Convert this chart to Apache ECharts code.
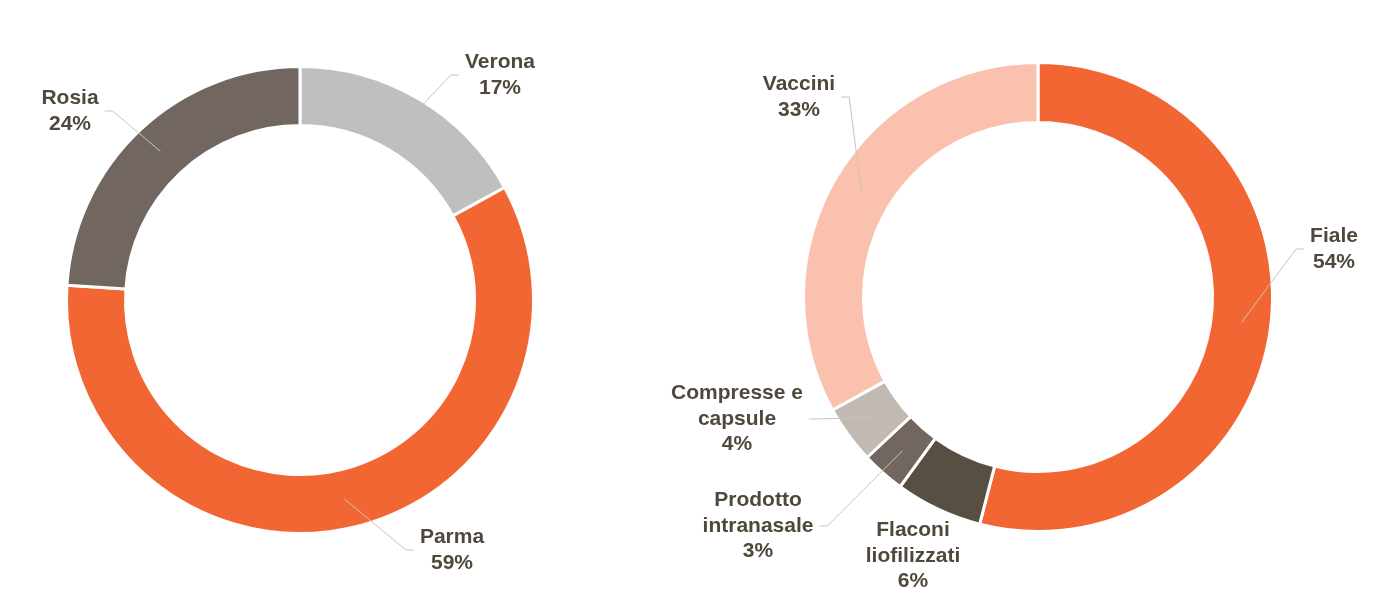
<!DOCTYPE html>
<html>
<head>
    <meta charset="utf-8">
    <title>Ciambelle</title>
    <style>
        html, body { margin: 0; padding: 0; background: #fff; }
        #demo { width: 1392px; height: 609px; }
    </style>
</head>
<body>
<div id="demo"></div>
<script src="https://cdn.jsdelivr.net/npm/echarts@6/dist/echarts.min.js"></script>
<script>
    // dati: grafico di sinistra (sedi)
    var sediNomi = ['Verona', 'Parma', 'Rosia'];
    var sediValori = [17, 59, 24];
    var sediColori = ['#BFBFBF', '#F26633', '#716760'];

    // dati: grafico di destra (prodotti)
    var prodottiNomi = ['Fiale', 'Flaconi\nliofilizzati', 'Prodotto\nintranasale', 'Compresse e\ncapsule', 'Vaccini'];
    var prodottiValori = [54, 6, 3, 4, 33];
    var prodottiColori = ['#F26633', '#575042', '#716760', '#C0BAB3', '#F9C1AE'];

    // dove stanno le etichette (centro del blocco di testo) e se hanno la linea
    var posEtichette = [
        [[500, 75], [452, 550], [70, 111]],
        [[1334, 249], [913, 556], [758, 526], [737, 419], [799, 97]]
    ];
    var senzaLinea = [[], [1]];

    var testo = '#4F483B';
    var font = "'Liberation Sans', Arial, sans-serif";

    var dom = document.getElementById('demo');
    var myChart = echarts.init(dom);

    function buildData(nomi, valori, colori, noLine) {
        var out = [];
        for (var i = 0; i < nomi.length; i++) {
            var item = { name: nomi[i], value: valori[i], itemStyle: { color: colori[i] } };
            if (noLine && noLine.indexOf(i) >= 0) {
                item.labelLine = { show: false };
            }
            out.push(item);
        }
        return out;
    }

    function formatta(p) {
        var righe = p.name.split('\n');
        righe.push(p.value + '%');
        return righe.map(function (r) { return '{t|' + r + '}'; }).join('\n');
    }

    // linea guida: parte da metà anello sull'angolo medio, arriva al bordo del testo
    function disponi(serie) {
        return function (params) {
            var pos = posEtichette[serie][params.dataIndex];
            var w = params.labelRect.width;
            var res = { x: pos[0], y: pos[1], align: 'center', verticalAlign: 'middle' };
            var lay = null;
            try {
                lay = myChart.getModel().getSeriesByIndex(params.seriesIndex).getData().getItemLayout(params.dataIndex);
            } catch (e) { lay = null; }
            if (lay) {
                var mid = (lay.startAngle + lay.endAngle) / 2;
                var rm = lay.r; // la serie sopra ha raggio = metà anello
                var sx = lay.cx + rm * Math.cos(mid);
                var sy = lay.cy + rm * Math.sin(mid);
                var ex, tx;
                if (sx < pos[0]) {
                    ex = pos[0] - w / 2 - 6;
                    tx = ex - 8;
                } else {
                    ex = pos[0] + w / 2 + 6;
                    tx = ex + 8;
                }
                res.labelLinePoints = [[sx, sy], [tx, pos[1]], [ex, pos[1]]];
            }
            return res;
        };
    }

    // anello colorato, senza etichette
    function anello(centro, raggi, dati) {
        return {
            type: 'pie',
            z: 2,
            center: centro,
            radius: raggi,
            startAngle: 90,
            clockwise: true,
            silent: true,
            itemStyle: { borderColor: '#fff', borderWidth: 3 },
            label: { show: false },
            labelLine: { show: false },
            emphasis: { disabled: true },
            data: dati
        };
    }

    // serie trasparente sopra, solo per etichette e linee guida
    function etichette(idx, centro, raggio, dati) {
        return {
            type: 'pie',
            z: 5,
            center: centro,
            radius: [0, raggio],
            startAngle: 90,
            clockwise: true,
            avoidLabelOverlap: false,
            silent: true,
            itemStyle: { color: 'rgba(0,0,0,0)', borderWidth: 0 },
            label: {
                show: true,
                position: 'outside',
                formatter: formatta,
                rich: {
                    t: {
                        align: 'center',
                        color: testo,
                        fontFamily: font,
                        fontWeight: 'bold',
                        fontSize: 21,
                        lineHeight: 25.5
                    }
                }
            },
            labelLine: {
                show: true,
                smooth: false,
                lineStyle: { color: '#C9C4BA', width: 1 }
            },
            labelLayout: disponi(idx),
            emphasis: { disabled: true },
            data: dati
        };
    }

    function trasparenti(nomi, valori, noLine) {
        var out = [];
        for (var i = 0; i < nomi.length; i++) {
            var item = { name: nomi[i], value: valori[i] };
            if (noLine.indexOf(i) >= 0) {
                item.labelLine = { show: false };
            }
            out.push(item);
        }
        return out;
    }

    var option = {
        backgroundColor: '#fff',
        animation: false,
        series: [
            anello([300, 300], [174.5, 233.5], buildData(sediNomi, sediValori, sediColori)),
            anello([1038, 297], [174.5, 234.5], buildData(prodottiNomi, prodottiValori, prodottiColori)),
            etichette(0, [300, 300], 204, trasparenti(sediNomi, sediValori, senzaLinea[0])),
            etichette(1, [1038, 297], 205, trasparenti(prodottiNomi, prodottiValori, senzaLinea[1]))
        ]
    };

    if (option && typeof option === 'object') {
        myChart.setOption(option, true);
    }
</script>
</body>
</html>
